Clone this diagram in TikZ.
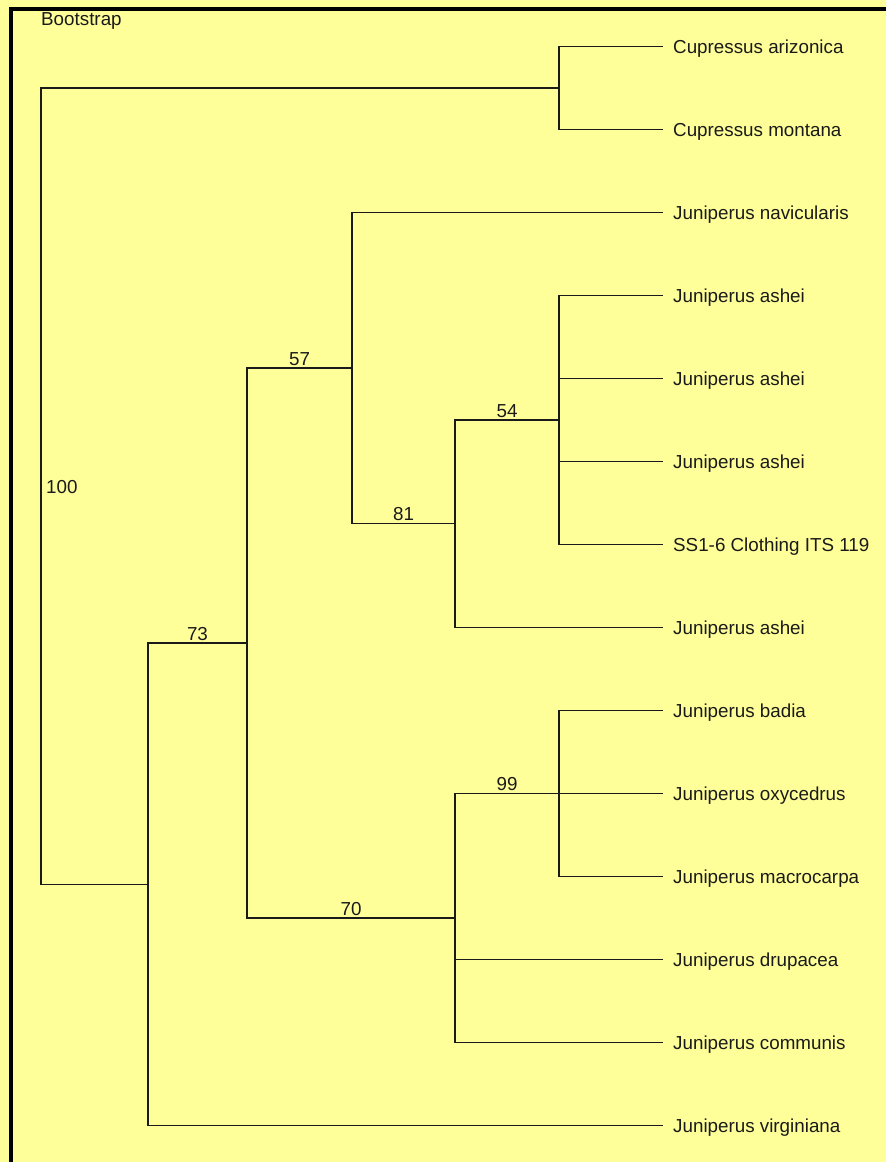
\documentclass[tikz,border=0pt]{standalone}
\usepackage{fontspec}
\setmainfont{Liberation Sans}
\definecolor{bgyellow}{HTML}{FFFF99}
\definecolor{inkc}{HTML}{1A1A1A}
\begin{document}
\begin{tikzpicture}[x=1pt,y=-1pt,
  branch/.style={draw=inkc, line width=1.4pt},
  leaf/.style={anchor=base west, inner sep=0pt, text=inkc, font=\fontsize{18.8}{21}\selectfont},
  boot/.style={anchor=base, inner sep=0pt, yshift=3pt, text=inkc, font=\fontsize{18.8}{21}\selectfont}]
\useasboundingbox (0,0) rectangle (886,1162);
\fill[bgyellow] (0,0) rectangle (886,1162);
\draw[line width=4pt, black, miter limit=10] (11,1162) -- (11,8.7) -- (886,8.7);
\node[leaf] (bs) at (41,25) {Bootstrap};
% leaf tips
\foreach \i/\y in {1/46.5,2/129.5,3/212.5,4/295.5,5/378.5,6/461.5,7/544.5,8/627.5,9/710.5,10/793.5,11/876.5,12/959.5,13/1042.5,14/1125.5}
  \coordinate (t\i) at (663,\y);
\node[leaf] (l1) at ([shift={(10,6.5)}]t1) {Cupressus arizonica};
\node[leaf] (l2) at ([shift={(10,6.5)}]t2) {Cupressus montana};
\node[leaf] (l3) at ([shift={(10,6.5)}]t3) {Juniperus navicularis};
\node[leaf] (l4) at ([shift={(10,6.5)}]t4) {Juniperus ashei};
\node[leaf] (l5) at ([shift={(10,6.5)}]t5) {Juniperus ashei};
\node[leaf] (l6) at ([shift={(10,6.5)}]t6) {Juniperus ashei};
\node[leaf] (l7) at ([shift={(10,6.5)}]t7) {SS1-6 Clothing ITS 119};
\node[leaf] (l8) at ([shift={(10,6.5)}]t8) {Juniperus ashei};
\node[leaf] (l9) at ([shift={(10,6.5)}]t9) {Juniperus badia};
\node[leaf] (l10) at ([shift={(10,6.5)}]t10) {Juniperus oxycedrus};
\node[leaf] (l11) at ([shift={(10,6.5)}]t11) {Juniperus macrocarpa};
\node[leaf] (l12) at ([shift={(10,6.5)}]t12) {Juniperus drupacea};
\node[leaf] (l13) at ([shift={(10,6.5)}]t13) {Juniperus communis};
\node[leaf] (l14) at ([shift={(10,6.5)}]t14) {Juniperus virginiana};
% internal nodes
\coordinate (R) at (41,486);
\coordinate (C) at (559,88);
\coordinate (J) at (148,884.3);
\coordinate (N73) at (247,643);
\coordinate (N57) at (352,368.1);
\coordinate (N81) at (455,523.75);
\coordinate (N54) at (559,420);
\coordinate (N70) at (455,918);
\coordinate (N99) at (559,793.5);
% branches
\draw[branch] (R) |- (C);
\draw[branch] (R) |- (J);
\draw[branch] (C) |- (t1);
\draw[branch] (C) |- (t2);
\draw[branch] (J) |- (N73) node[boot, pos=0.75] {73};
\draw[branch] (J) |- (t14);
\draw[branch] (N73) |- (N57) node[boot, pos=0.75] {57};
\draw[branch] (N73) |- (N70) node[boot, pos=0.75] {70};
\draw[branch] (N57) |- (t3);
\draw[branch] (N57) |- (N81) node[boot, pos=0.75] {81};
\draw[branch] (N81) |- (N54) node[boot, pos=0.75] {54};
\draw[branch] (N81) |- (t8);
\draw[branch] (N54) |- (t4);
\draw[branch] (N54) |- (t5);
\draw[branch] (N54) |- (t6);
\draw[branch] (N54) |- (t7);
\draw[branch] (N70) |- (N99) node[boot, pos=0.75] {99};
\draw[branch] (N70) |- (t12);
\draw[branch] (N70) |- (t13);
\draw[branch] (N99) |- (t9);
\draw[branch] (N99) |- (t10);
\draw[branch] (N99) |- (t11);
\node[leaf] (b100) at (46,493) {100};
\end{tikzpicture}
\end{document}
